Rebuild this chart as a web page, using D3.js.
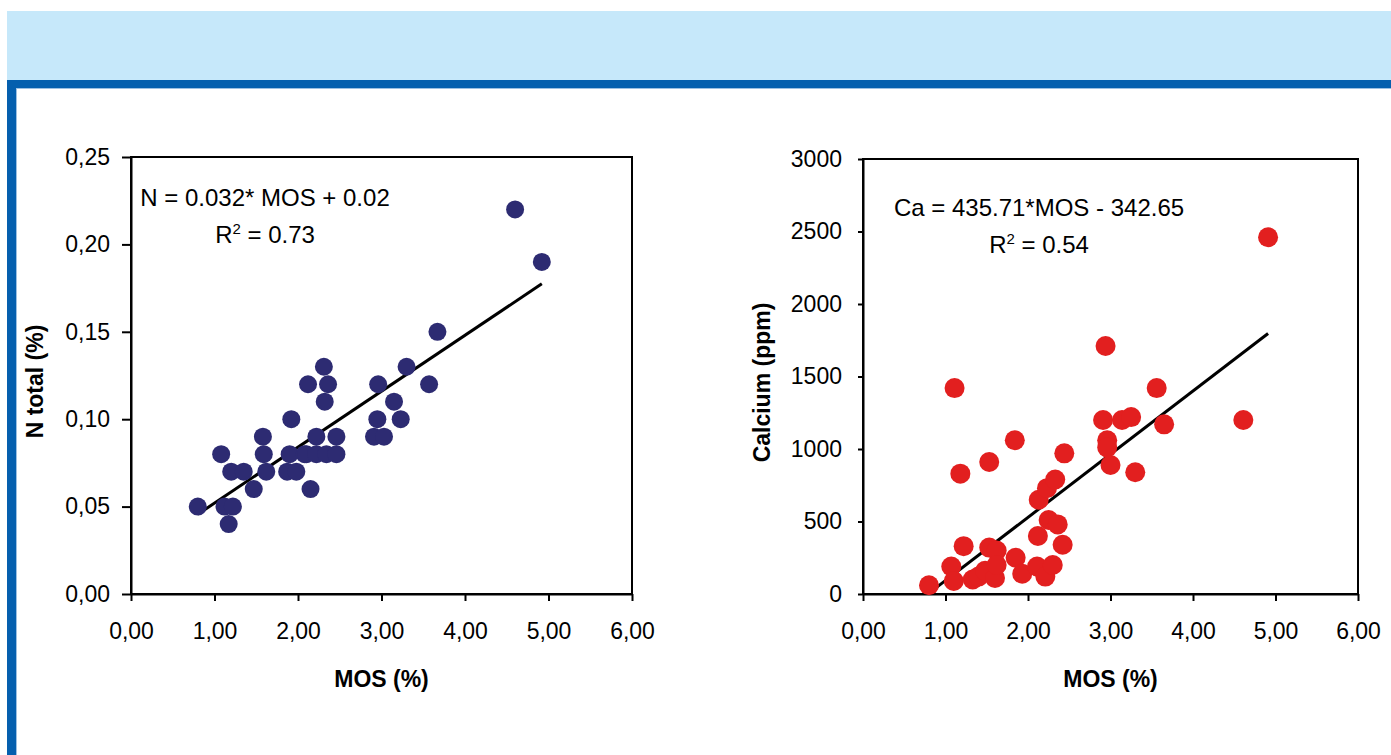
<!DOCTYPE html>
<html>
<head>
<meta charset="utf-8">
<script src="https://cdn.jsdelivr.net/npm/d3@7"></script>
<style>
  body { margin: 0; background: #ffffff; }
  svg text { font-family: "Liberation Sans", Arial, sans-serif; fill: #000; }
</style>
</head>
<body>
<div id="figure"></div>
<script>
// Left chart: MOS (%) vs N total (%)
var nMos = [0.80, 1.17, 1.12, 1.22, 1.08, 1.20, 1.35, 1.47, 1.58, 1.59, 1.62, 1.92, 1.87, 1.98, 1.90,
    2.12, 2.15, 2.08, 2.10, 2.22, 2.34, 2.46, 2.22, 2.46, 2.31, 2.36, 2.32, 2.95, 2.91, 3.03, 2.96,
    3.15, 3.23, 3.30, 3.57, 3.67, 4.60, 4.92];
var nTotal = [0.05, 0.04, 0.05, 0.05, 0.08, 0.07, 0.07, 0.06, 0.09, 0.08, 0.07, 0.10, 0.07, 0.07, 0.08,
    0.12, 0.06, 0.08, 0.08, 0.08, 0.08, 0.08, 0.09, 0.09, 0.13, 0.12, 0.11, 0.10, 0.09, 0.09, 0.12,
    0.11, 0.10, 0.13, 0.12, 0.15, 0.22, 0.19];
var nSlope = 0.032;
var nIntercept = 0.02;

// Right chart: MOS (%) vs Calcium (ppm)
var caMos = [0.80, 1.11, 1.18, 1.22, 1.07, 1.10, 1.33, 1.40, 1.53, 1.53, 1.62, 1.48, 1.60, 1.62, 1.84,
    1.85, 1.93, 2.11, 2.21, 2.30, 2.12, 2.13, 2.23, 2.33, 2.25, 2.36, 2.42, 2.44, 2.91, 2.96,
    2.96, 3.00, 3.14, 3.25, 3.30, 3.56, 3.65, 4.61, 2.94, 4.91];
var caValues = [60, 1420, 830, 330, 190, 90, 100, 120, 910, 320, 300, 160, 110, 200, 1060,
    250, 140, 190, 120, 200, 400, 650, 730, 790, 510, 480, 340, 970, 1200, 1060,
    1010, 890, 1200, 1220, 840, 1420, 1170, 1200, 1710, 2460];
var caSlope = 435.71;
var caIntercept = -342.65;

// Tick values
var mosTicks = [0, 1, 2, 3, 4, 5, 6];
var nTicks = [0, 0.05, 0.10, 0.15, 0.20, 0.25];
var caTicks = [0, 500, 1000, 1500, 2000, 2500, 3000];

var svgWidth = 1391;
var svgHeight = 755;

var svg = d3.select("#figure")
    .append("svg")
    .attr("width", svgWidth)
    .attr("height", svgHeight);

// page frame (light blue header band + dark blue border)
svg.append("rect")
    .attr("x", 7).attr("y", 11)
    .attr("width", svgWidth - 7).attr("height", 69)
    .attr("fill", "#c6e8fa");
svg.append("rect")
    .attr("x", 7).attr("y", 80)
    .attr("width", svgWidth - 7).attr("height", 8)
    .attr("fill", "#055fae");
svg.append("rect")
    .attr("x", 7).attr("y", 80)
    .attr("width", 9).attr("height", svgHeight - 80)
    .attr("fill", "#055fae");
svg.append("line")
    .attr("x1", 16).attr("x2", svgWidth)
    .attr("y1", 88.5).attr("y2", 88.5)
    .attr("stroke", "#9cc0e2");
svg.append("line")
    .attr("x1", 16.5).attr("x2", 16.5)
    .attr("y1", 88).attr("y2", svgHeight)
    .attr("stroke", "#9cc0e2");

var commaFormat = function(d) { return d3.format(".2f")(d).replace(".", ","); };

function drawChart(opt) {
    var g = svg.append("g")
        .attr("transform", `translate(${opt.left}, ${opt.top})`);

    var x = d3.scaleLinear().domain([0, 6]).range([0, opt.width]);
    var y = d3.scaleLinear().domain(opt.yDomain).range([opt.height, 0]);

    // plot frame
    g.append("rect")
        .attr("width", opt.width)
        .attr("height", opt.height)
        .attr("fill", "none")
        .attr("stroke", "#000")
        .attr("stroke-width", 2);

    var xAxis = g.append("g")
        .attr("transform", `translate(0, ${opt.height})`)
        .call(d3.axisBottom(x).tickValues(mosTicks).tickFormat(commaFormat)
            .tickSizeInner(7).tickSizeOuter(0).tickPadding(22));
    var yAxis = g.append("g")
        .call(d3.axisLeft(y).tickValues(opt.yTicks).tickFormat(opt.yFormat)
            .tickSizeInner(opt.yTickSize).tickSizeOuter(0).tickPadding(opt.yPadding));
    [xAxis, yAxis].forEach(function(a) {
        a.selectAll("path, line").attr("stroke", "#000").attr("stroke-width", 2);
        a.selectAll("text").attr("font-size", 23)
            .style("font-family", "'Liberation Sans', Arial, sans-serif");
    });

    // regression line over the data range
    var ext = d3.extent(opt.xs);
    g.append("line")
        .attr("x1", x(ext[0])).attr("y1", y(opt.slope * ext[0] + opt.intercept))
        .attr("x2", x(ext[1])).attr("y2", y(opt.slope * ext[1] + opt.intercept))
        .attr("stroke", "#000")
        .attr("stroke-width", 3);

    // data points
    g.append("g")
        .selectAll("circle")
        .data(opt.xs)
        .enter()
        .append("circle")
        .attr("cx", d => x(d))
        .attr("cy", (d, i) => y(opt.ys[i]))
        .attr("r", opt.r)
        .attr("fill", opt.color);

    // equation and R2
    g.append("text")
        .attr("x", opt.eqX).attr("y", opt.eqY)
        .attr("text-anchor", "middle")
        .attr("font-size", 24)
        .text(opt.equation);
    var r2 = g.append("text")
        .attr("x", opt.eqX).attr("y", opt.eqY + 37)
        .attr("text-anchor", "middle")
        .attr("font-size", 24);
    r2.append("tspan").text("R");
    r2.append("tspan").attr("font-size", 15).attr("dy", -9).text("2");
    r2.append("tspan").attr("dy", 9).text(" = " + opt.r2);

    // axis titles
    g.append("text")
        .attr("x", opt.width / 2)
        .attr("y", 93)
        .attr("transform", `translate(0, ${opt.height})`)
        .attr("text-anchor", "middle")
        .attr("font-size", 23)
        .attr("font-weight", "bold")
        .text("MOS (%)");
    g.append("text")
        .attr("transform", `translate(${opt.yTitleX}, ${opt.height / 2 + 6}) rotate(-90)`)
        .attr("text-anchor", "middle")
        .attr("font-size", 23)
        .attr("font-weight", "bold")
        .text(opt.yTitle);
}

drawChart({
    left: 131, top: 157, width: 501, height: 437,
    yDomain: [0, 0.25], yTicks: nTicks, yFormat: commaFormat,
    yTickSize: 9, yPadding: 12,
    xs: nMos, ys: nTotal, r: 9, color: "#2d2b72",
    slope: nSlope, intercept: nIntercept,
    equation: "N = 0.032* MOS + 0.02", r2: "0.73", eqX: 134, eqY: 49,
    yTitle: "N total (%)", yTitleX: -88
});

drawChart({
    left: 863, top: 159, width: 495, height: 435,
    yDomain: [0, 3000], yTicks: caTicks, yFormat: d3.format("d"),
    yTickSize: 5, yPadding: 16,
    xs: caMos, ys: caValues, r: 10, color: "#e21f1f",
    slope: caSlope, intercept: caIntercept,
    equation: "Ca = 435.71*MOS - 342.65", r2: "0.54", eqX: 176, eqY: 57,
    yTitle: "Calcium (ppm)", yTitleX: -93
});
</script>
</body>
</html>
